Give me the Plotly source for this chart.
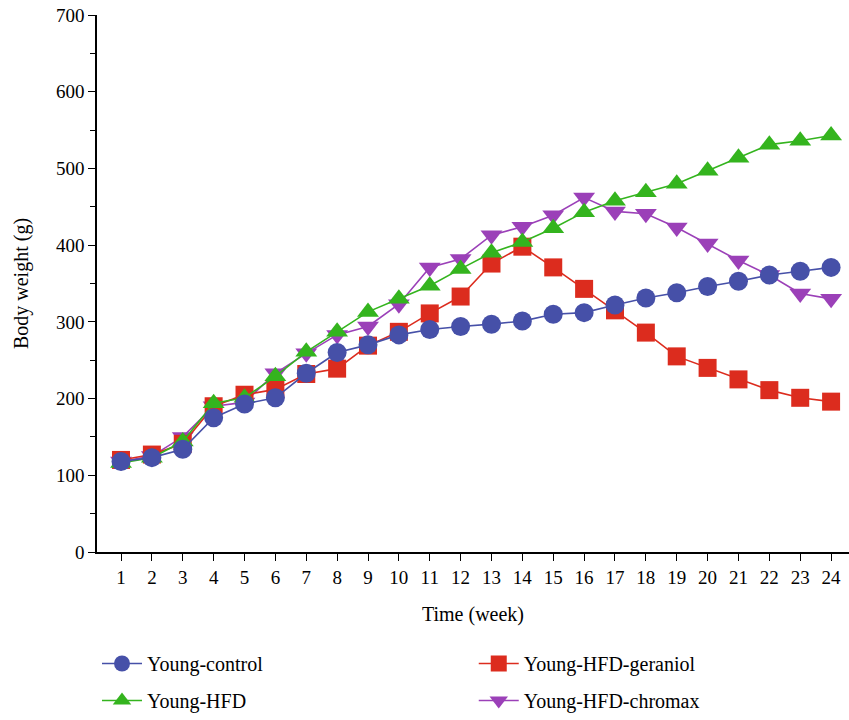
import plotly.graph_objects as go

weeks = list(range(1, 25))
young_control = [118, 123, 134, 175, 193, 201, 233, 260, 270, 283, 290, 294, 297, 301, 310, 312, 322, 331, 338, 346, 353, 361, 366, 371]
young_hfd_geraniol = [120, 127, 141, 190, 205, 212, 232, 239, 269, 287, 311, 333, 376, 398, 371, 343, 315, 286, 255, 240, 225, 211, 201, 196]
young_hfd = [116, 123, 144, 194, 201, 229, 261, 287, 313, 330, 347, 369, 390, 404, 422, 443, 458, 469, 480, 497, 514, 531, 536, 543]
young_hfd_chromax = [118, 125, 150, 190, 195, 233, 259, 283, 294, 323, 371, 382, 413, 424, 439, 462, 444, 441, 423, 402, 380, 361, 337, 330]

BLUE = "#4650A8"
RED = "#DC2C1E"
GREEN = "#34B41E"
PURPLE = "#9B40B8"
FONT = "Liberation Serif"

fig = go.Figure()

# draw order: purple, red, green, blue (blue on top)
fig.add_trace(go.Scatter(
    x=weeks, y=young_hfd_chromax, name="Young-HFD-chromax", mode="lines+markers",
    line=dict(color=PURPLE, width=1.6),
    marker=dict(symbol="triangle-down", size=19, color=PURPLE),
    legend="legend2", legendrank=2, legendgroup="d"))
fig.add_trace(go.Scatter(
    x=weeks, y=young_hfd_geraniol, name="Young-HFD-geraniol", mode="lines+markers",
    line=dict(color=RED, width=1.6),
    marker=dict(symbol="square", size=18, color=RED),
    legend="legend2", legendrank=1, legendgroup="c"))
fig.add_trace(go.Scatter(
    x=weeks, y=young_hfd, name="Young-HFD", mode="lines+markers",
    line=dict(color=GREEN, width=1.6),
    marker=dict(symbol="triangle-up", size=19, color=GREEN),
    legend="legend", legendrank=2, legendgroup="b"))
fig.add_trace(go.Scatter(
    x=weeks, y=young_control, name="Young-control", mode="lines+markers",
    line=dict(color=BLUE, width=1.6),
    marker=dict(symbol="circle", size=19, color=BLUE),
    legend="legend", legendrank=1, legendgroup="a"))

legend_common = dict(
    orientation="v", yanchor="top", xanchor="left",
    font=dict(family=FONT, size=20, color="black"),
    bgcolor="rgba(0,0,0,0)", traceorder="grouped", tracegroupgap=8,
    itemsizing="trace", itemwidth=40,
)

fig.update_layout(
    width=849, height=720,
    margin=dict(l=97, r=0, t=15, b=165),
    plot_bgcolor="white", paper_bgcolor="white",
    font=dict(family=FONT, size=19, color="black"),
    showlegend=True,
    legend=dict(x=0.0, y=-0.172, **legend_common),
    legend2=dict(x=0.501, y=-0.172, **legend_common),
    xaxis=dict(
        range=[0.222, 24.58], tickmode="array", tickvals=weeks,
        ticktext=[str(w) for w in weeks],
        showline=True, linecolor="black", linewidth=1.5,
        ticks="outside", ticklen=7, tickwidth=1.2, tickcolor="black",
        showgrid=False, zeroline=False,
        tickfont=dict(family=FONT, size=19),
        title=dict(text="Time (week)", font=dict(family=FONT, size=20), standoff=20),
    ),
    yaxis=dict(
        range=[0, 700], dtick=100, tick0=0,
        showline=True, linecolor="black", linewidth=1.5,
        ticks="outside", ticklen=7, tickwidth=1.2, tickcolor="black",
        minor=dict(dtick=50, ticks="outside", ticklen=5, tickwidth=1.2, tickcolor="black"),
        showgrid=False, zeroline=False,
        tickfont=dict(family=FONT, size=19),
        title=dict(text="Body weight (g)", font=dict(family=FONT, size=20), standoff=22),
    ),
)

fig.write_html("out.html")
